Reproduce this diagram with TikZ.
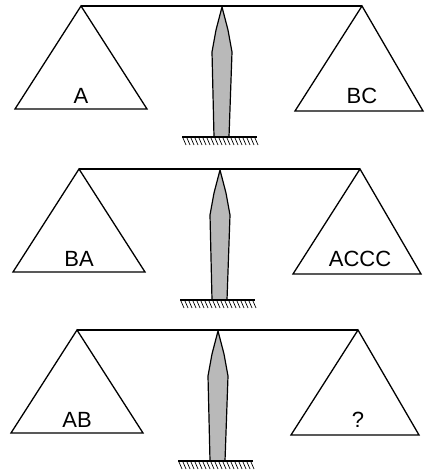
\documentclass[tikz,border=0pt]{standalone}
\usepackage{fontspec}
\setmainfont{Liberation Sans}
\usetikzlibrary{calc}
\tikzset{
  pan/.style={line width=1.3pt, line join=miter},
  beam/.style={line width=1.6pt},
  pillar/.style={fill=gray!55, line width=1.2pt, line join=round},
  weight/.style={anchor=base, font=\fontsize{22}{26}\selectfont}
}

\begin{document}
\begin{tikzpicture}[x=1pt, y=-1pt]
    \useasboundingbox (0,0) rectangle (424,471);
    \foreach \k/\dx/\dy/\l/\r in {1/0/0/A/BC, 2/-2/163/BA/ACCC, 3/-4/324/AB/?} {
        \begin{scope}[shift={(\dx,\dy)}]
            \coordinate (la\k) at (81,6);
            \coordinate (ra\k) at (362,6);
            \draw[beam] (la\k) -- (ra\k);
            % pans
            \draw[pan] (la\k) -- (15,109) -- (147,109) -- cycle;
            \draw[pan] (ra\k) -- (295,111) -- (423,111) -- cycle;
            % pillar and foot
            \draw[pillar] (222,7) -- (228,30) -- (232,52) -- (229,137) -- (214,137) -- (212,52) -- (216,30) -- cycle;
            \draw[pan] (182,137) -- (257,137);
            \foreach \h in {183,187,...,255}
                \draw[line width=0.7pt] (\h,138) -- (\h+3,145);
            \node[weight] (wl\k) at (81,103) {\l};
            \node[weight] (wr\k) at (362,103) {\r};
        \end{scope}
    }
\end{tikzpicture}
\end{document}
